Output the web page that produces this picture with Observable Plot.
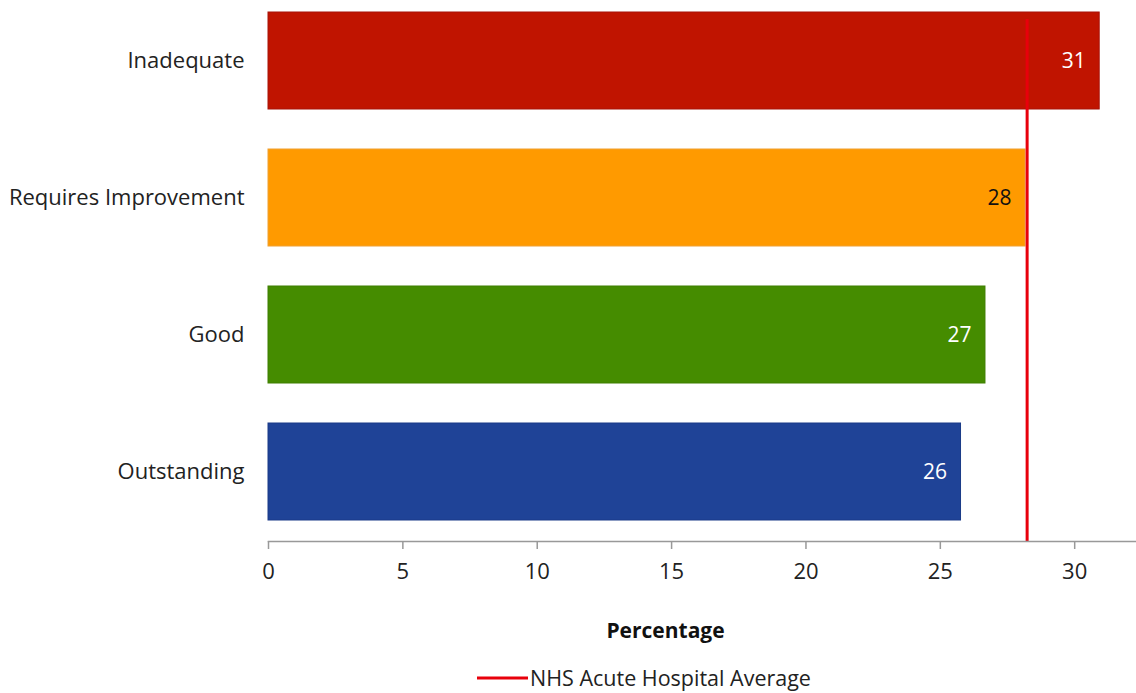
<!DOCTYPE html>
<html>
<head>
<meta charset="utf-8">
<script src="https://cdn.jsdelivr.net/npm/d3@7"></script>
<script src="https://cdn.jsdelivr.net/npm/@observablehq/plot@0.6"></script>
<style>
  html, body { margin: 0; padding: 0; background: #fff; }
  body { width: 1136px; height: 693px; overflow: hidden; font-family: "Open Sans", sans-serif; }
  #legend { height: 31px; display: flex; align-items: center; margin-left: 477px; font-size: 21.5px; line-height: 26px; color: #222; }
  #legend svg { display: block; }
</style>
</head>
<body>
<div id="chart"></div>
<div id="legend"></div>
<script>
// Ratings, top to bottom
const ratings = ["Inadequate", "Requires Improvement", "Good", "Outstanding"];
// Percentage for each rating
const percentages = [30.93, 28.17, 26.68, 25.77];
const barColors = ["#C01400", "#FF9A00", "#458C00", "#1F4397"];
const barStrokes = ["#A81208", "#F0A030", "#3F7F00", "#1A3A88"];
const labelColors = ["#ffffff", "#111111", "#ffffff", "#ffffff"];
// NHS acute hospital average
const nhsAverage = 28.23;
const xTicks = [0, 5, 10, 15, 20, 25, 30];
const axisTitle = "Percentage";
const legendLabel = "NHS Acute Hospital Average";

const rows = ratings.map((r, i) => ({
  rating: r,
  value: percentages[i],
  fill: barColors[i],
  stroke: barStrokes[i],
  labelColor: labelColors[i]
}));

const chart = Plot.plot({
  width: 1136,
  height: 662,
  marginLeft: 268,
  marginRight: 0,
  marginTop: 0,
  marginBottom: 121,
  style: { fontFamily: "Open Sans, sans-serif", fontSize: "22px", color: "#222", background: "#fff" },
  x: { domain: [0, 32.3], ticks: xTicks, label: null },
  y: { domain: ratings, range: [-8, 541], paddingInner: 0.29, paddingOuter: 0.145, label: null },
  marks: [
    Plot.barX(rows, { y: "rating", x: "value", fill: "fill", stroke: "stroke", strokeWidth: 1 }),
    Plot.text(rows, {
      y: "rating", x: "value", text: d => d3.format(".0f")(d.value),
      textAnchor: "end", dx: -14, fill: "labelColor", fontSize: 21
    }),
    Plot.ruleX([nhsAverage], { stroke: "#E8000B", strokeWidth: 3, insetTop: 19 }),
    Plot.frame({ anchor: "bottom", stroke: "#999", strokeWidth: 1.5 }),
    Plot.axisX({ ticks: xTicks, tickSize: 8, tickPadding: 14, stroke: "#999", strokeWidth: 1.5, fill: "#222", fontSize: 22, label: null }),
    Plot.axisY({ tickSize: 0, tickPadding: 24, fill: "#222", fontSize: 22, label: null }),
    Plot.text([axisTitle], { frameAnchor: "bottom", dx: -37, dy: 96, fontWeight: "bold", fontSize: 21, fill: "#111" })
  ]
});
document.getElementById("chart").appendChild(chart);

// Legend for the average line
const legend = document.getElementById("legend");
legend.innerHTML = `<svg width="53" height="6"><line x1="0" y1="3" x2="51" y2="3" stroke="#E8000B" stroke-width="3"/></svg><span>${legendLabel}</span>`;
</script>
</body>
</html>
